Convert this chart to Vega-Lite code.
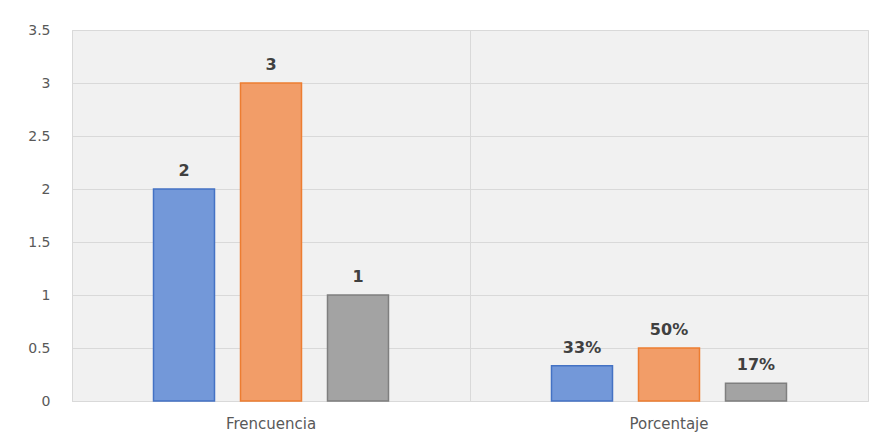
{
  "$schema": "https://vega.github.io/schema/vega-lite/v6.json",
  "width": 796,
  "height": 371,
  "autosize": {"type": "none"},
  "padding": {"left": 72, "top": 30, "right": 13, "bottom": 40},
  "background": "#ffffff",
  "config": {
    "font": "DejaVu Sans",
    "view": {"fill": "#f1f1f1", "stroke": "#d9d9d9", "strokeWidth": 1}
  },
  "data": {
    "values": [
      {"grupo": "Frencuencia", "serie": "A", "valor": 2, "etiqueta": "2"},
      {"grupo": "Frencuencia", "serie": "B", "valor": 3, "etiqueta": "3"},
      {"grupo": "Frencuencia", "serie": "C", "valor": 1, "etiqueta": "1"},
      {"grupo": "Porcentaje", "serie": "A", "valor": 0.3333, "etiqueta": "33%"},
      {"grupo": "Porcentaje", "serie": "B", "valor": 0.5, "etiqueta": "50%"},
      {"grupo": "Porcentaje", "serie": "C", "valor": 0.1667, "etiqueta": "17%"}
    ]
  },
  "encoding": {
    "x": {
      "field": "grupo",
      "type": "nominal",
      "sort": ["Frencuencia", "Porcentaje"],
      "scale": {"paddingInner": 0, "paddingOuter": 0},
      "axis": {
        "title": null,
        "labelAngle": 0,
        "labelFontSize": 15,
        "labelColor": "#595959",
        "labelPadding": 15,
        "ticks": false,
        "domain": true,
        "domainColor": "#d9d9d9",
        "grid": true,
        "gridColor": "#d9d9d9",
        "bandPosition": 0
      }
    },
    "xOffset": {
      "field": "serie",
      "type": "nominal",
      "sort": ["A", "B", "C"],
      "scale": {"paddingInner": 0.299, "paddingOuter": 0.937}
    },
    "y": {
      "field": "valor",
      "type": "quantitative",
      "scale": {"domain": [0, 3.5], "nice": false},
      "axis": {
        "title": null,
        "values": [0, 0.5, 1, 1.5, 2, 2.5, 3, 3.5],
        "format": "~g",
        "labelFontSize": 14,
        "labelColor": "#595959",
        "labelPadding": 22,
        "ticks": false,
        "domain": false,
        "grid": true,
        "gridColor": "#d9d9d9"
      }
    }
  },
  "layer": [
    {
      "mark": {"type": "bar", "strokeWidth": 1.5},
      "encoding": {
        "fill": {
          "field": "serie",
          "type": "nominal",
          "scale": {"domain": ["A", "B", "C"], "range": ["#7398d9", "#f29d68", "#a3a3a3"]},
          "legend": null
        },
        "stroke": {
          "field": "serie",
          "type": "nominal",
          "scale": {"domain": ["A", "B", "C"], "range": ["#4472c4", "#ed7d31", "#7f7f7f"]},
          "legend": null
        }
      }
    },
    {
      "mark": {
        "type": "text",
        "baseline": "bottom",
        "dy": -10,
        "fontSize": 16,
        "fontWeight": "bold",
        "color": "#404040"
      },
      "encoding": {"text": {"field": "etiqueta"}}
    }
  ]
}
